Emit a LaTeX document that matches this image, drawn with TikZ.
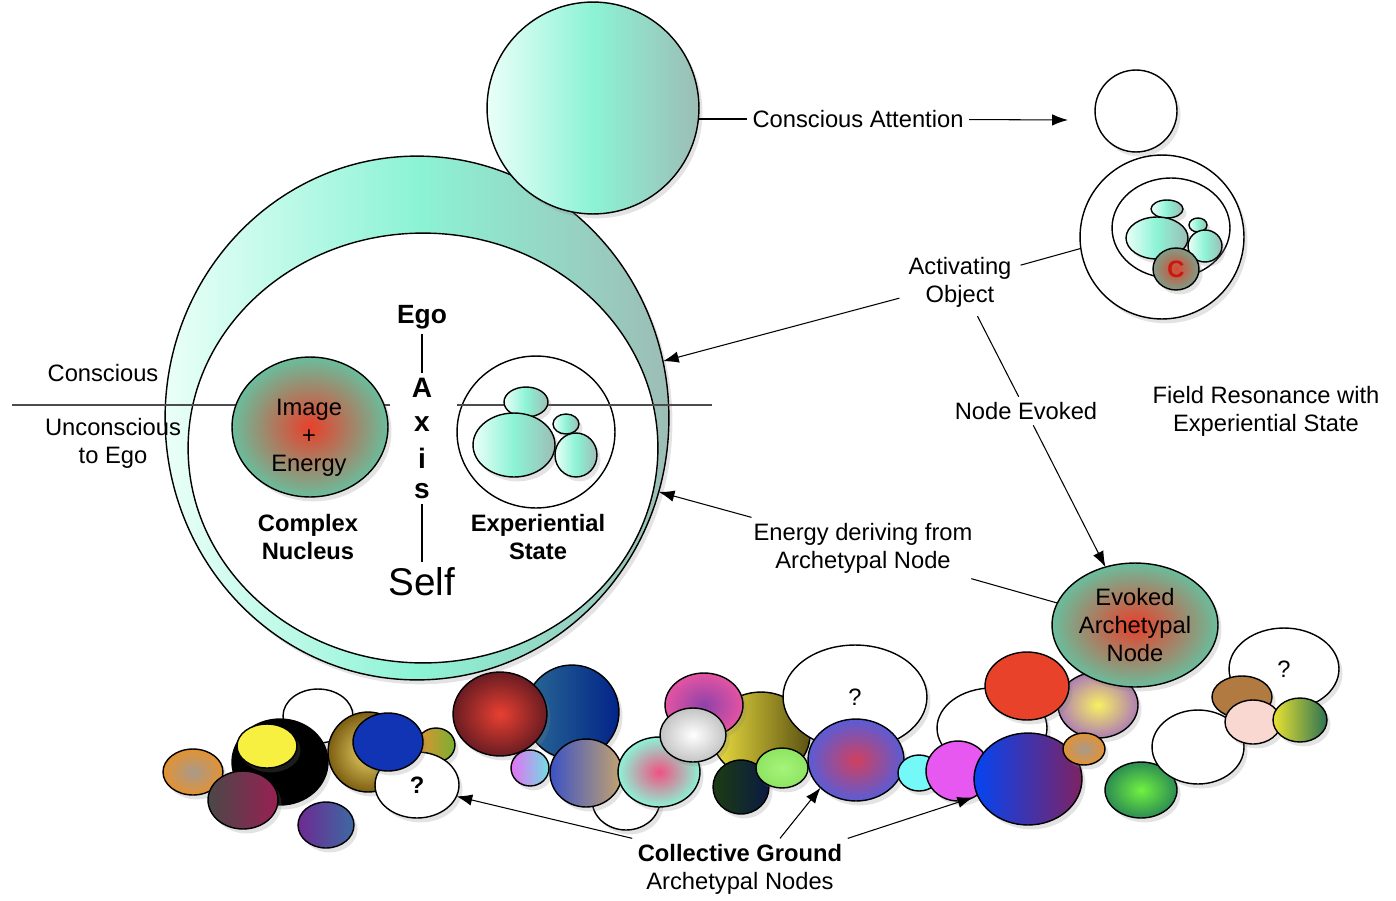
\documentclass[tikz,border=0pt]{standalone}
\usepackage{fontspec}
\setmainfont{Liberation Sans}
\usetikzlibrary{shapes.geometric,arrows.meta,shadows,calc}

\definecolor{aqLight}{HTML}{EAFFF8}
\definecolor{aqMid}{HTML}{8CF3D5}
\definecolor{aqGray}{HTML}{9DBDB5}
\definecolor{nucRed}{HTML}{E8402A}
\definecolor{nucTeal}{HTML}{6ABD9C}
\definecolor{cRed}{HTML}{D84A34}
\definecolor{cGray}{HTML}{7E9E86}
\definecolor{cText}{HTML}{C81810}
\definecolor{yel}{HTML}{F8F040}
\definecolor{orng}{HTML}{E39232}
\definecolor{grayOr}{HTML}{A89A8C}
\definecolor{marL}{HTML}{4A4848}
\definecolor{marR}{HTML}{992052}
\definecolor{purL}{HTML}{6E2A92}
\definecolor{purR}{HTML}{3C6AA2}
\definecolor{goldIn}{HTML}{EED468}
\definecolor{goldOut}{HTML}{7C5E12}
\definecolor{grnB}{HTML}{78B030}
\definecolor{bluA}{HTML}{1034B4}
\definecolor{dbL}{HTML}{2A6A94}
\definecolor{dbR}{HTML}{022488}
\definecolor{redIn}{HTML}{E84032}
\definecolor{redOut}{HTML}{6A1C22}
\definecolor{pkL}{HTML}{E272F2}
\definecolor{cyR}{HTML}{72DEE2}
\definecolor{btL}{HTML}{3C52C4}
\definecolor{btR}{HTML}{C4A470}
\definecolor{olL}{HTML}{EEE040}
\definecolor{olR}{HTML}{5C5212}
\definecolor{apIn}{HTML}{F05282}
\definecolor{mgIn}{HTML}{8E42AA}
\definecolor{mgOut}{HTML}{E454A2}
\definecolor{lgOut}{HTML}{C4C4C4}
\definecolor{dgL}{HTML}{1C3C12}
\definecolor{dgR}{HTML}{0A1A42}
\definecolor{lgIn}{HTML}{A6F47A}
\definecolor{lgOutG}{HTML}{8EE462}
\definecolor{puIn}{HTML}{D0405E}
\definecolor{puOut}{HTML}{5A5CD6}
\definecolor{cyn}{HTML}{74F8F8}
\definecolor{mag}{HTML}{E658F0}
\definecolor{redF}{HTML}{E8432A}
\definecolor{pyIn}{HTML}{F8F062}
\definecolor{pyOut}{HTML}{AE7EB2}
\definecolor{bpL}{HTML}{0444F2}
\definecolor{bpR}{HTML}{7E2262}
\definecolor{grIn}{HTML}{70F240}
\definecolor{grOut}{HTML}{2C8C52}
\definecolor{brn}{HTML}{B07A40}
\definecolor{pnk}{HTML}{F8D8D0}
\definecolor{ygL}{HTML}{EAE232}
\definecolor{ygR}{HTML}{2C7252}

\newcommand{\labfont}{\fontsize{13.5}{15.9}\selectfont}
\newcommand{\blob}[7][]{\node[blob,#7,minimum width=#5*0.04cm,minimum height=#6*0.04cm] (#2) at (#3,#4) {#1};}

\tikzset{
  plain/.style={ellipse,draw=black,line width=0.8pt,inner sep=0pt,outer sep=0pt},
  blob/.style={plain,font=\labfont,align=center,
    drop shadow={shadow xshift=2pt,shadow yshift=-2.5pt,opacity=.22}},
  flat/.style={fill=#1},
  lin/.style 2 args={left color=#1,right color=#2},
  rad/.style 2 args={inner color=#1,outer color=#2},
  ring/.style={left color=aqLight,right color=aqGray,middle color=aqMid},
  lab/.style={font=\labfont,align=center,inner sep=3pt},
  boldlab/.style={lab,font=\labfont\bfseries},
  axl/.style={font=\fontsize{16}{19}\selectfont\bfseries,inner sep=3pt},
  conn/.style={line width=0.6pt},
  divide/.style={line width=0.8pt,black!70},
  arr/.style={-{Latex[length=9pt,width=6.5pt]},line width=0.6pt}
}

\begin{document}
\begin{tikzpicture}[x=0.02cm,y=-0.02cm]
\useasboundingbox (0,0) rectangle (1396,900);

% ego field
\blob{bigc}{417}{418}{252}{262}{ring}
\node[plain,fill=white,minimum width=235*0.04cm,minimum height=215*0.04cm] (inner) at (423,448) {};
\blob{topc}{593}{108}{106}{106}{ring}

% conscious / unconscious divide
\coordinate (cl1) at (12,405);
\coordinate (cl2) at (390,405);
\coordinate (cr1) at (457,405);
\coordinate (cr2) at (712,405);
\node[plain,minimum width=79*0.04cm,minimum height=76*0.04cm] (exper) at (536,432) {};
\draw[divide] (cl1) -- (cl2);
\draw[divide] (cr1) -- (cr2);
\node[lab] (cons) at (103,373) {Conscious};
\node[lab] (uncons) at (113,443) {Unconscious\\to Ego};

% complex nucleus
\blob{nuc}{310}{427}{78}{70}{rad={nucRed}{nucTeal}}
\node[lab] (imgtxt) at (309,438) {Image\\+\\Energy};
\node[boldlab] (nuclab) at (308,537) {Complex\\Nucleus};

% experiential state
\blob{exA}{526}{402}{22}{15}{ring}
\blob{exB}{514}{445}{41}{32}{ring}
\blob{exC}{566}{424}{13}{10}{ring}
\blob{exD}{576}{455}{21}{22}{ring}
\node[boldlab] (exlab) at (538,537) {Experiential\\State};

% axis
\node[font=\fontsize{15}{18}\selectfont\bfseries,inner sep=3pt] (ego) at (422,317) {Ego};
\node[axl] (axA) at (422,388) {A};
\node[axl] (axX) at (422,424) {x};
\node[axl] (axI) at (422,458) {i};
\node[axl] (axS) at (422,491) {s};
\node[font=\fontsize{22}{26}\selectfont,inner sep=3pt] (self) at (422,582) {Self};
\draw[conn] (ego) -- (axA);
\draw[conn] (axS) -- (self);

% attended object
\blob{smtop}{1136}{111}{41}{41}{flat=white}
\blob{smbig}{1162}{237}{82}{82}{flat=white}
\node[plain,fill=white,minimum width=59*0.04cm,minimum height=50*0.04cm] (sminner) at (1171,228) {};
\blob{smA}{1167}{209}{16}{9}{ring}
\blob{smB}{1157}{238}{31}{21}{ring}
\blob{smC}{1198}{225}{9}{7}{ring}
\blob{smD}{1205}{246}{17}{16}{ring}
\blob[\textcolor{cText}{\textbf{C}}]{cnode}{1176}{269}{23}{21}{rad={cRed}{cGray}}

% collective ground
\blob{wA}{318}{716}{35}{27}{flat=white}
\blob{blk}{280}{762}{48}{43}{flat=black}
\blob{yelA}{267}{746}{30}{22}{flat=yel}
\blob{orA}{193}{772}{30}{23}{rad={grayOr}{orng}}
\blob{mar}{243}{800}{35}{29}{lin={marL}{marR}}
\blob{purA}{326}{825}{28}{23}{lin={purL}{purR}}
\blob{gold}{368}{752}{40}{40}{rad={goldIn}{goldOut}}
\blob{orgr}{436}{745}{19}{17}{lin={orng}{grnB}}
\blob[\textbf{?}]{qa}{417}{785}{42}{33}{flat=white}
\blob{bluB}{388}{742}{35}{29}{flat=bluA}
\blob{dblu}{572}{712}{47}{47}{lin={dbL}{dbR}}
\blob{redR}{500}{714}{47}{42}{rad={redIn}{redOut}}
\blob{pkcy}{530}{768}{19}{18}{lin={pkL}{cyR}}
\blob{wB}{626}{800}{34}{30}{flat=white}
\blob{btan}{586}{773}{36}{34}{lin={btL}{btR}}
\blob{olive}{761}{735}{49}{43}{lin={olL}{olR}}
\blob{aqpk}{659}{772}{41}{35}{rad={apIn}{aqMid}}
\blob{mgp}{704}{705}{39}{32}{rad={mgIn}{mgOut}}
\blob{lgray}{693}{735}{33}{27}{rad={white}{lgOut}}
\blob{dgrn}{741}{787}{28}{27}{lin={dgL}{dgR}}
\blob{lgrn}{782}{768}{26}{20}{rad={lgIn}{lgOutG}}
\blob[?]{qb}{855}{697}{72}{52}{flat=white}
\blob{pur}{856}{760}{48}{41}{rad={puIn}{puOut}}
\blob{cynA}{919}{773}{21}{18}{flat=cyn}
\blob{wC}{992}{728}{55}{40}{flat=white}
\blob{magA}{958}{771}{32}{30}{flat=mag}
\blob{pky}{1098}{705}{40}{33}{rad={pyIn}{pyOut}}
\blob{redA}{1027}{686}{42}{34}{flat=redF}
\blob{bpur}{1028}{779}{54}{46}{lin={bpL}{bpR}}
\blob{orB}{1084}{749}{21}{16}{rad={grayOr}{orng}}
\blob{grnR}{1141}{790}{36}{28}{rad={grIn}{grOut}}
\blob[?]{qc}{1284}{669}{55}{41}{flat=white}
\blob{wD}{1198}{747}{46}{37}{flat=white}
\blob{brnA}{1242}{697}{30}{21}{flat=brn}
\blob{pnkA}{1253}{722}{28}{22}{flat=pnk}
\blob{ygr}{1300}{720}{27}{22}{lin={ygL}{ygR}}
\blob[Evoked\\Archetypal\\Node]{evoked}{1135}{625}{83}{62}{rad={nucRed}{nucTeal}}

% labels
\node[lab] (attn) at (858,119) {Conscious Attention};
\coordinate (attnEnd) at (1068,120);
\node[lab,inner sep=5pt] (actobj) at (960,282) {Activating\\Object};
\node[lab] (nodeev) at (1026,411) {Node Evoked};
\node[lab] (field) at (1266,411) {Field Resonance with\\Experiential State};
\node[lab] (energy) at (863,548) {Energy deriving from\\Archetypal Node};
\node[lab] (coll) at (740,869) {\textbf{Collective Ground}\\Archetypal Nodes};

% connectors
\draw[conn] (topc.east |- attn) -- (attn);
\draw[arr] (attn) -- (attnEnd);
\draw[conn] (actobj) -- (smbig.188);
\draw[arr] (actobj) -- (bigc.13);
\draw[conn] (actobj) -- (nodeev);
\draw[arr] (nodeev) -- (evoked);
\draw[conn] (evoked) -- (energy);
\draw[arr] (energy) -- (bigc.-17);
\draw[arr] (coll.north west) -- (qa.-16);
\draw[arr] ($(coll.north)+(40,0)$) -- (pur.218);
\draw[arr] (coll.north east) -- (magA.-60);
\end{tikzpicture}
\end{document}
